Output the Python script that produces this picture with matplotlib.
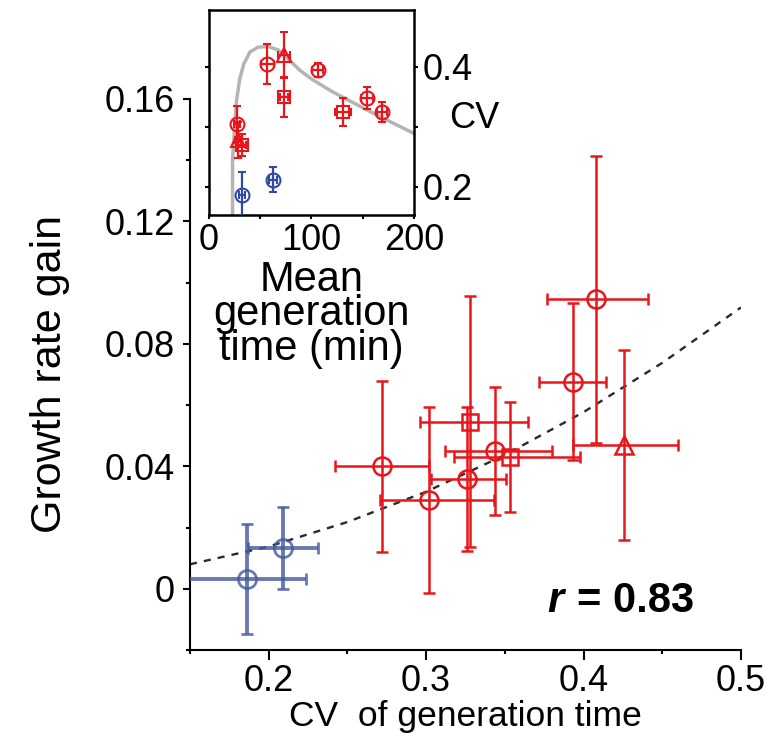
import matplotlib.pyplot as plt
import numpy as np

plt.rcParams['font.family'] = ['Liberation Sans', 'DejaVu Sans']

# main panel: CV of generation time vs growth rate gain
red_cv = [0.272, 0.302, 0.326, 0.328, 0.344, 0.353, 0.393, 0.408, 0.426]
red_cv_lo = [0.030, 0.031, 0.023, 0.032, 0.032, 0.035, 0.021, 0.031, 0.033]
red_cv_hi = [0.030, 0.041, 0.025, 0.037, 0.036, 0.045, 0.021, 0.033, 0.034]
red_gain = [0.040, 0.029, 0.036, 0.0545, 0.045, 0.043, 0.0676, 0.0945, 0.047]
red_gain_err = [0.028, 0.0305, 0.0235, 0.041, 0.021, 0.018, 0.0256, 0.047, 0.031]
red_marker = ['o', 'o', 'o', 's', 'o', 's', 'o', 'o', '^']

blue_cv = [0.186, 0.209]
blue_cv_err = [0.038, 0.022]
blue_gain = [0.0033, 0.0134]
blue_gain_err = [0.018, 0.0134]

# dashed trend line
fit_cv = [0.15, 0.20, 0.25, 0.30, 0.35, 0.40, 0.45, 0.50]
fit_gain = [0.0080, 0.0138, 0.0218, 0.0317, 0.0437, 0.0577, 0.0738, 0.0919]

xticks = [0.2, 0.3, 0.4, 0.5]
xtick_labels = ['0.2', '0.3', '0.4', '0.5']
yticks = [0, 0.04, 0.08, 0.12, 0.16]
ytick_labels = ['0', '0.04', '0.08', '0.12', '0.16']

# inset: mean generation time vs CV
in_red_mgt = [27, 28, 32, 57, 73.5, 73.5, 106, 131, 154, 169]
in_red_mgt_err = [3, 3, 4, 6, 6, 4, 5, 8, 6, 5]
in_red_cv = [0.305, 0.278, 0.27, 0.405, 0.42, 0.35, 0.395, 0.325, 0.348, 0.325]
in_red_cv_err = [0.03, 0.03, 0.018, 0.033, 0.038, 0.033, 0.011, 0.023, 0.018, 0.017]
in_red_marker = ['o', '^', 's', 'o', '^', 's', 'o', 's', 'o', 'o']

in_blue_mgt = [32, 62.5]
in_blue_mgt_err = [3, 4]
in_blue_cv = [0.187, 0.212]
in_blue_cv_err = [0.037, 0.021]

curve_mgt = [23, 23, 25, 27, 30, 34, 40, 48, 58, 68, 78, 89, 100, 120, 140, 160, 180, 200]
curve_cv = [0.153, 0.245, 0.30, 0.345, 0.38, 0.405, 0.425, 0.433, 0.434, 0.428,
            0.412, 0.394, 0.38, 0.359, 0.341, 0.323, 0.306, 0.289]

RED = '#e8161b'
BLUE = '#44599f'
FS = 26

fig = plt.figure(figsize=(7.78, 7.46), dpi=100)
ax = fig.add_axes([0.2442, 0.1287, 0.7082, 0.7386])

ax.plot(fit_cv, fit_gain, linestyle=(0, (3, 3)), color='#2a2a2a', lw=1.7, zorder=1)

for m in ['o', 's', '^']:
    idx = [i for i, mk in enumerate(red_marker) if mk == m]
    ax.errorbar([red_cv[i] for i in idx], [red_gain[i] for i in idx],
                xerr=[[red_cv_lo[i] for i in idx], [red_cv_hi[i] for i in idx]],
                yerr=[red_gain_err[i] for i in idx],
                fmt=m, ms=13 if m != 's' else 12, mfc='none', mec=RED, mew=1.8,
                ecolor=RED, elinewidth=1.8, capsize=4.5, capthick=1.8, zorder=3)

ax.errorbar(blue_cv, blue_gain, xerr=blue_cv_err, yerr=blue_gain_err,
            fmt='o', ms=13, mfc='none', mec=BLUE, mew=2, ecolor=BLUE,
            elinewidth=2.8, capsize=4.5, capthick=2, alpha=0.8, zorder=3)

ax.set_xlim(0.15, 0.5)
ax.set_ylim(-0.02, 0.16)
ax.set_xticks(xticks)
ax.set_xticklabels(xtick_labels)
ax.set_xticks([0.15, 0.25, 0.35, 0.45], minor=True)
ax.set_yticks(yticks)
ax.set_yticklabels(ytick_labels)
ax.set_yticks([-0.02, 0.02, 0.06, 0.10, 0.14], minor=True)
for s in ['top', 'right']:
    ax.spines[s].set_visible(False)
for s in ['left', 'bottom']:
    ax.spines[s].set_linewidth(1.5)
ax.tick_params(axis='x', which='major', length=7, width=1.5, pad=3, labelsize=FS)
ax.tick_params(axis='y', which='major', length=5, width=1.5, pad=6, labelsize=FS)
ax.tick_params(which='minor', length=3, width=1.5)
ax.set_xlabel('CV  of generation time', fontsize=25.5, labelpad=1)
ax.set_ylabel('Growth rate gain', fontsize=31, labelpad=25)

ax.text(0.377, -0.004, 'r', fontsize=30, fontweight='bold', fontstyle='italic',
        ha='left', va='center')
ax.text(0.396, -0.004, '= 0.83', fontsize=30, fontweight='bold',
        ha='left', va='center')

# inset
axi = fig.add_axes([0.2686, 0.7118, 0.2635, 0.2748])
axi.plot(curve_mgt, curve_cv, color='#b4b4b4', lw=2.5, zorder=1)
for m in ['o', 's', '^']:
    idx = [i for i, mk in enumerate(in_red_marker) if mk == m]
    axi.errorbar([in_red_mgt[i] for i in idx], [in_red_cv[i] for i in idx],
                 xerr=[in_red_mgt_err[i] for i in idx],
                 yerr=[in_red_cv_err[i] for i in idx],
                 fmt=m, ms=10 if m != 's' else 9, mfc='none', mec=RED, mew=1.5,
                 ecolor=RED, elinewidth=1.6, capsize=3, capthick=1.5, zorder=3)
axi.errorbar(in_blue_mgt, in_blue_cv, xerr=in_blue_mgt_err, yerr=in_blue_cv_err,
             fmt='o', ms=10, mfc='none', mec='#2f4aa0', mew=1.5, ecolor='#2f4aa0',
             elinewidth=1.6, capsize=3, capthick=1.5, zorder=3)
axi.set_xlim(0, 200)
axi.set_ylim(0.153, 0.495)
axi.set_xticks([0, 100, 200])
axi.set_xticks([50, 150], minor=True)
axi.set_yticks([0.2, 0.4])
axi.set_yticklabels(['0.2', '0.4'])
axi.set_yticks([0.3], minor=True)
for s in axi.spines.values():
    s.set_linewidth(1.8)
axi.tick_params(which='both', direction='out', length=3, width=1.5,
                left=True, right=True, labelleft=False, labelright=True,
                labelsize=FS, pad=3)
axi.set_xlabel('Mean\ngeneration\ntime (min)', fontsize=30, linespacing=0.82,
               labelpad=1)
axi.text(1.17, 0.47, 'CV', transform=axi.transAxes, fontsize=FS,
         ha='left', va='center')

fig.savefig('out.png', dpi=100)
